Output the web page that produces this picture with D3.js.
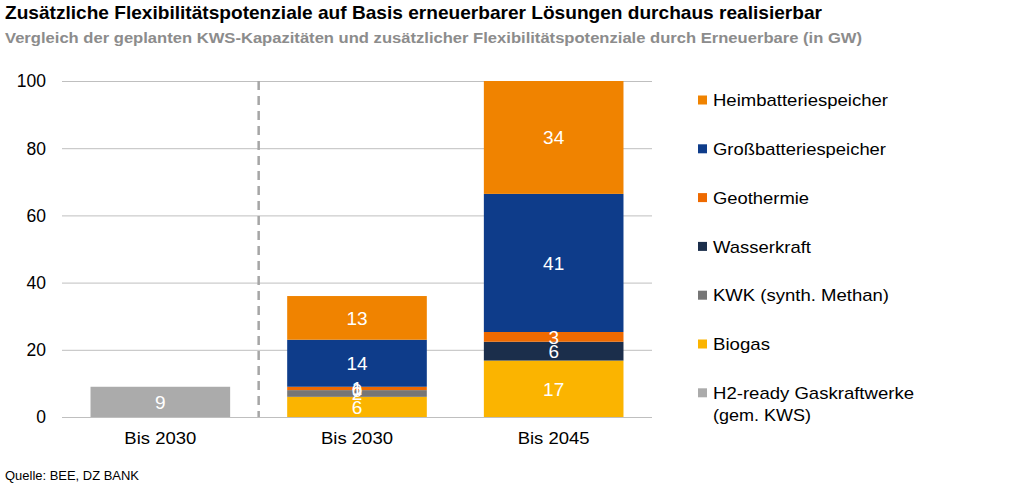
<!DOCTYPE html>
<html><head><meta charset="utf-8">
<script src="https://cdn.jsdelivr.net/npm/d3@7"></script>
<style>
body{margin:0;background:#fff;}
text{font-family:"Liberation Sans",Arial,sans-serif;}
</style></head>
<body><svg id="c" width="1031" height="493"></svg>
<script>
const categories = ["Bis 2030", "Bis 2030", "Bis 2045"];
const seriesNames = ["H2-ready Gaskraftwerke (gem. KWS)", "Biogas", "KWK (synth. Methan)", "Wasserkraft", "Geothermie", "Großbatteriespeicher", "Heimbatteriespeicher"];
const h2Ready      = [9, null, null];
const biogas       = [null, 6, 16.8];
const kwk          = [null, 2, null];
const wasserkraft  = [null, 0, 5.6];
const geothermie   = [null, 1, 2.9];
const grossbatt    = [null, 14, 41.1];
const heimbatt     = [null, 13, 33.6];
const yTicks = [0, 20, 40, 60, 80, 100];
const legendOrder = ["Heimbatteriespeicher", "Großbatteriespeicher", "Geothermie", "Wasserkraft", "KWK (synth. Methan)", "Biogas", "H2-ready Gaskraftwerke (gem. KWS)"];
const colors = {
  "H2-ready Gaskraftwerke (gem. KWS)": "#ABABAB",
  "Biogas": "#FBB400",
  "KWK (synth. Methan)": "#767676",
  "Wasserkraft": "#1B2E4B",
  "Geothermie": "#EE6A00",
  "Großbatteriespeicher": "#0E3C8A",
  "Heimbatteriespeicher": "#F08300"
};
const seriesValues = [h2Ready, biogas, kwk, wasserkraft, geothermie, grossbatt, heimbatt];
// rendered text widths (layout)
const textWidths = {
  "Heimbatteriespeicher": 175, "Großbatteriespeicher": 173, "Geothermie": 96, "Wasserkraft": 98,
  "KWK (synth. Methan)": 176, "Biogas": 57, "H2-ready Gaskraftwerke": 201, "(gem. KWS)": 98
};

const svg = d3.select("#c");
const m = {l: 62, r: 652, t: 81, b: 417};
const x = d3.scaleBand().domain(d3.range(categories.length)).range([m.l, m.r]).paddingInner(0.29).paddingOuter(0.145);
const y = d3.scaleLinear().domain([0, 100]).range([m.b, m.t]);

// title
svg.append("text").attr("x", 5).attr("y", 19).attr("font-size", 18.5).attr("font-weight", "bold").attr("fill", "#000")
  .attr("textLength", 817).attr("lengthAdjust", "spacingAndGlyphs")
  .text("Zusätzliche Flexibilitätspotenziale auf Basis erneuerbarer Lösungen durchaus realisierbar");
svg.append("text").attr("x", 5).attr("y", 43).attr("font-size", 14.5).attr("font-weight", "bold").attr("fill", "#8C8C8C")
  .attr("textLength", 857).attr("lengthAdjust", "spacingAndGlyphs")
  .text("Vergleich der geplanten KWS-Kapazitäten und zusätzlicher Flexibilitätspotenziale durch Erneuerbare (in GW)");

// grid
svg.append("g").selectAll("line").data(yTicks).join("line")
  .attr("x1", m.l).attr("x2", m.r).attr("y1", d => y(d) + 0.5).attr("y2", d => y(d) + 0.5)
  .attr("stroke", "#BFBFBF").attr("stroke-width", 1);
svg.append("g").selectAll("text").data(yTicks).join("text")
  .attr("x", 46).attr("y", d => y(d)).attr("dy", "0.36em").attr("text-anchor", "end")
  .attr("font-size", 17.5).attr("fill", "#000").text(d => d);

// stacked bars
const rows = categories.map((c, i) => {
  const o = {idx: i};
  seriesNames.forEach((s, k) => o[s] = seriesValues[k][i]);
  return o;
});
const stack = d3.stack().keys(seriesNames).value((d, k) => d[k] == null ? 0 : d[k]);
const layers = stack(rows);
layers.forEach(layer => {
  const name = layer.key;
  const g = svg.append("g");
  layer.forEach((seg, i) => {
    const v = rows[i][name];
    if (v == null) return;
    if (seg[1] > seg[0]) {
      g.append("rect").attr("x", x(i)).attr("width", x.bandwidth())
        .attr("y", y(seg[1])).attr("height", y(seg[0]) - y(seg[1]))
        .attr("fill", colors[name]);
    }
  });
});
layers.forEach(layer => {
  const name = layer.key;
  layer.forEach((seg, i) => {
    const v = rows[i][name];
    if (v == null) return;
    svg.append("text").attr("x", x(i) + x.bandwidth() / 2).attr("y", y((seg[0] + seg[1]) / 2))
      .attr("dy", "0.36em").attr("text-anchor", "middle").attr("font-size", 19).attr("fill", "#fff")
      .text(d3.format(".0f")(v));
  });
});

// dashed separator
const sepX = (x(0) + x.bandwidth() + x(1)) / 2;
svg.append("line").attr("x1", sepX).attr("x2", sepX).attr("y1", y(100)).attr("y2", y(0))
  .attr("stroke", "#A6A6A6").attr("stroke-width", 2.5).attr("stroke-dasharray", "9,6");

// category labels
svg.append("g").selectAll("text").data(categories).join("text")
  .attr("x", (d, i) => x(i) + x.bandwidth() / 2).attr("y", 444).attr("text-anchor", "middle")
  .attr("font-size", 17).attr("fill", "#000")
  .attr("textLength", 72).attr("lengthAdjust", "spacingAndGlyphs").text(d => d);

// legend
const lg = svg.append("g");
legendOrder.forEach((name, i) => {
  const cy = 100 + i * 48.8;
  lg.append("rect").attr("x", 698).attr("y", cy - 4.5).attr("width", 9).attr("height", 9).attr("fill", colors[name]);
  const t = lg.append("text").attr("x", 713).attr("y", cy).attr("dy", "0.36em").attr("font-size", 17).attr("fill", "#000");
  if (name === "H2-ready Gaskraftwerke (gem. KWS)") {
    t.append("tspan").attr("x", 713).attr("textLength", textWidths["H2-ready Gaskraftwerke"]).attr("lengthAdjust", "spacingAndGlyphs").text("H2-ready Gaskraftwerke");
    t.append("tspan").attr("x", 713).attr("dy", "1.3em").attr("textLength", textWidths["(gem. KWS)"]).attr("lengthAdjust", "spacingAndGlyphs").text("(gem. KWS)");
  } else t.attr("textLength", textWidths[name]).attr("lengthAdjust", "spacingAndGlyphs").text(name);
});

// source
svg.append("text").attr("x", 5).attr("y", 480).attr("font-size", 12.5).attr("fill", "#000")
  .attr("textLength", 134).attr("lengthAdjust", "spacingAndGlyphs").text("Quelle: BEE, DZ BANK");
</script></body></html>
